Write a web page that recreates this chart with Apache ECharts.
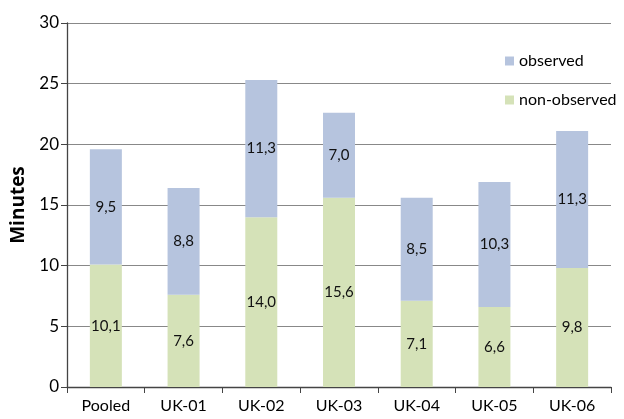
<!DOCTYPE html>
<html>
<head>
<meta charset="utf-8">
<script src="https://cdn.jsdelivr.net/npm/echarts@6/dist/echarts.min.js"></script>
<style>
  html, body { margin: 0; padding: 0; background: #fff; }
  #chart { width: 624px; height: 419px; }
</style>
</head>
<body>
<div id="chart"></div>
<script>
const categories = ['Pooled', 'UK-01', 'UK-02', 'UK-03', 'UK-04', 'UK-05', 'UK-06']
const nonObserved = [10.1, 7.6, 14.0, 15.6, 7.1, 6.6, 9.8]
const observed = [9.5, 8.8, 11.3, 7.0, 8.5, 10.3, 11.3]

const font = 'Lato, "Open Sans", sans-serif'
const fmt = p => p.value.toFixed(1).replace('.', ',')

const chart = echarts.init(document.getElementById('chart'))

const option = {
  animation: false,
  textStyle: { fontFamily: font },
  grid: { left: 67, right: 13, top: 23, bottom: 32, containLabel: false },
  legend: {
    orient: 'vertical',
    left: 500,
    top: 48,
    itemWidth: 9,
    itemHeight: 9,
    itemGap: 23,
    icon: 'rect',
    textStyle: { fontFamily: font, fontSize: 16, color: '#000' },
    data: ['observed', 'non-observed'],
  },
  xAxis: {
    type: 'category',
    data: categories,
    axisLine: { lineStyle: { color: '#444', width: 1.3 } },
    axisTick: { show: true, length: 6, lineStyle: { color: '#444' } },
    axisLabel: { color: '#000', fontSize: 16, fontFamily: font, margin: 11 },
  },
  yAxis: {
    type: 'value',
    min: 0,
    max: 30,
    interval: 5,
    name: 'Minutes',
    nameLocation: 'middle',
    nameGap: 32,
    nameTextStyle: { fontSize: 19, fontWeight: 'bold', color: '#000', fontFamily: '"Open Sans", sans-serif' },
    axisLine: { show: true, lineStyle: { color: '#444', width: 1.3 } },
    axisTick: { show: true, length: 6, lineStyle: { color: '#444' } },
    axisLabel: { color: '#000', fontSize: 17, fontFamily: font, margin: 8 },
    splitLine: { lineStyle: { color: '#888', width: 1 } },
  },
  series: [
    {
      name: 'non-observed',
      type: 'bar',
      stack: 'total',
      barWidth: 32,
      itemStyle: { color: '#d5e2b8' },
      label: { show: true, position: 'inside', formatter: fmt, color: '#111', fontSize: 15, fontFamily: font },
      data: nonObserved,
    },
    {
      name: 'observed',
      type: 'bar',
      stack: 'total',
      barWidth: 32,
      itemStyle: { color: '#b6c4de' },
      label: { show: true, position: 'inside', formatter: fmt, color: '#111', fontSize: 15, fontFamily: font },
      data: observed,
    },
  ],
}

chart.setOption(option)
</script>
</body>
</html>
